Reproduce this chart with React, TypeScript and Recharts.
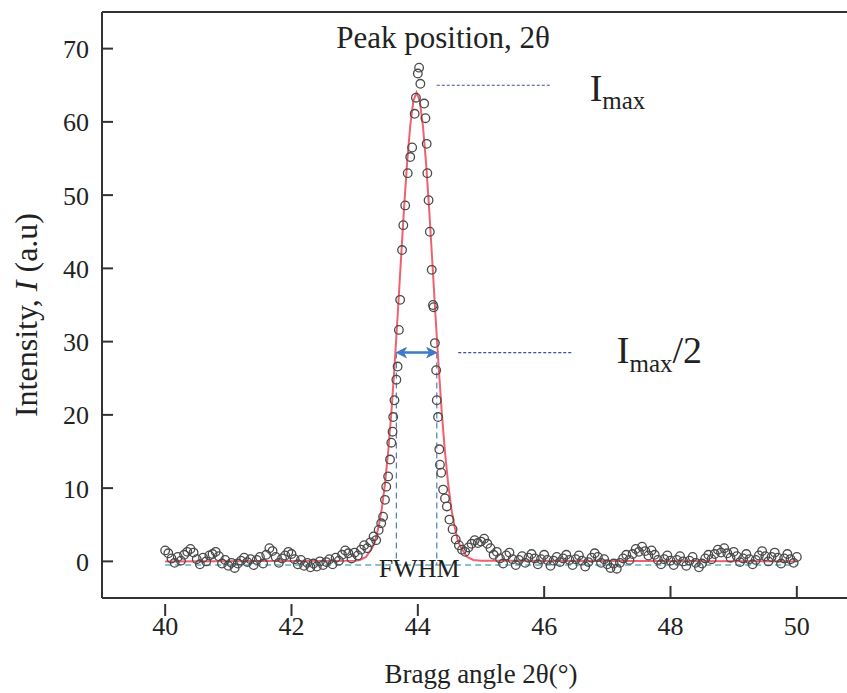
import {
  ComposedChart,
  Line,
  ReferenceDot,
  ReferenceLine,
  Scatter,
  XAxis,
  YAxis,
} from "recharts";

const serif = '"Liberation Serif", "DejaVu Serif", "Times New Roman", serif';

// scan grid of the flat background on both sides of the peak
const scanStep = 0.05;
const leftStart = 40;
const leftCounts = [
  1.5, 1.1, 0.4, -0.2, 0.6, 0.1, 0.9, 1.3, 1.7, 1.2, 0.3, -0.4, 0.5, 0.0, 0.8, 1.0,
  1.3, 0.7, -0.3, 0.2, -0.6, -0.2, -0.9, -0.3, 0.1, 0.5, -0.1, 0.3, -0.5, 0.2, 0.6,
  -0.3, 0.9, 1.8, 1.4, 0.6, -0.2, 0.4, 0.8, 1.3, 1.0, 0.3, -0.4, 0.2, -0.6, -0.2,
  -0.8, -0.3, -0.7, 0.0, -0.5, -0.1, 0.3, -0.4, 0.5, 0.1, 0.9, 1.5, 1.1, 0.4, 1.2,
  0.8, 1.6, 2.2, 1.8,
];
const rightStart = 45;
const rightCounts = [
  2.7, 3.1, 2.4, 1.8, 0.9, 1.3, 0.4, -0.3, 0.8, 1.2, 0.3, -0.5, 0.2, 0.7, -0.2, 0.5,
  1.0, 0.4, -0.4, 0.3, 0.9, 0.2, -0.6, 0.1, 0.6, -0.1, 0.4, 0.9, 0.2, -0.5, 0.3, 0.8,
  0.1, -0.7, -0.1, 0.5, 1.1, 0.6, -0.2, 0.3, -0.4, -0.9, -0.3, -1.0, -0.2, 0.4, 0.9,
  0.2, 1.0, 1.7, 1.3, 2.0, 1.4, 0.8, 1.5, 0.9, 0.2, -0.4, 0.3, 0.8, 0.1, -0.5, 0.2,
  0.7, 0.0, -0.6, 0.1, 0.6, -0.2, -0.8, -0.3, 0.4, 0.9, 0.3, 1.0, 1.6, 1.2, 1.8, 1.1,
  0.5, 1.3, 0.7, -0.1, 0.4, 1.0, 0.3, -0.4, 0.2, 0.8, 1.4, 0.7, 0.0, 0.6, 1.2, 0.5,
  -0.3, 0.4, 1.0, 0.3, -0.2, 0.6,
];

// measured points across the reflection [2θ, I]
const peakPoints: [number, number][] = [
  [43.25, 2.6], [43.3, 3.4], [43.34, 2.9], [43.38, 4.3], [43.42, 5.2], [43.45, 6.1],
  [43.48, 8.4], [43.5, 10.2], [43.53, 11.6], [43.56, 13.9], [43.58, 16.2], [43.6, 17.7],
  [43.61, 19.7], [43.63, 22.0], [43.66, 24.8], [43.68, 26.6], [43.7, 31.6], [43.72, 35.7],
  [43.75, 42.5], [43.77, 45.9], [43.8, 48.6], [43.84, 53.0], [43.88, 55.2], [43.91, 56.5],
  [43.95, 61.1], [43.97, 63.3], [44.0, 66.6], [44.02, 67.4], [44.04, 65.2], [44.1, 62.5],
  [44.12, 60.5], [44.14, 57.0], [44.15, 53.0], [44.17, 49.3], [44.19, 45.0], [44.22, 39.8],
  [44.24, 35.0], [44.25, 34.7], [44.27, 29.8], [44.29, 26.1], [44.3, 22.0], [44.32, 19.7],
  [44.34, 15.3], [44.35, 13.2], [44.37, 12.1], [44.4, 9.8], [44.43, 8.6], [44.46, 7.5],
  [44.5, 5.7], [44.55, 4.4], [44.6, 3.0], [44.65, 2.2], [44.7, 1.6], [44.75, 1.3],
  [44.8, 1.9], [44.85, 2.4], [44.9, 2.9], [44.95, 2.5],
];

// fitted profile [2θ, I]
const fitPoints: [number, number][] = [
  [40, 0], [43.0, 0.1], [43.08, 0.2], [43.18, 0.6], [43.28, 1.9], [43.33, 3.0],
  [43.38, 4.8], [43.43, 7.2], [43.48, 10.6], [43.53, 14.9], [43.58, 20.2], [43.63, 26.5],
  [43.68, 33.5], [43.73, 40.8], [43.78, 48.0], [43.83, 54.4], [43.88, 59.5], [43.93, 62.9],
  [43.98, 64.0], [44.03, 62.9], [44.08, 59.5], [44.13, 54.4], [44.18, 48.0], [44.23, 40.8],
  [44.28, 33.5], [44.33, 26.5], [44.38, 20.2], [44.43, 14.9], [44.48, 10.6], [44.53, 7.2],
  [44.58, 4.8], [44.63, 3.0], [44.68, 1.9], [44.78, 0.6], [44.88, 0.2], [45.0, 0.1], [50, 0],
];

const xTicks = [40, 42, 44, 46, 48, 50];
const yTicks = [0, 10, 20, 30, 40, 50, 60, 70];

const iMax = 65;
const halfMax = 28.5;
const fwhmLeft = 43.66;
const fwhmRight = 44.3;
const baseLevel = -0.5;

const scatterData = [
  ...leftCounts.map((v, i) => ({ angle: +(leftStart + i * scanStep).toFixed(2), intensity: v })),
  ...peakPoints.map(([a, v]) => ({ angle: a, intensity: v })),
  ...rightCounts.map((v, i) => ({ angle: +(rightStart + i * scanStep).toFixed(2), intensity: v })),
];
const fitData = fitPoints.map(([a, v]) => ({ angle: a, intensity: v }));

function XTick({ x, y, payload }: any) {
  const below = payload.value <= 44;
  return (
    <g>
      <line x1={x} x2={x} y1={below ? y + 6 : y - 12} y2={below ? y + 18 : y + 1} stroke="#333" strokeWidth={2} />
      <text x={x} y={y + 37} textAnchor="middle" fontSize={26} fontFamily={serif} fill="#222">
        {payload.value}
      </text>
    </g>
  );
}

function YTick({ x, y, payload }: any) {
  return (
    <g>
      <line x1={x} x2={x + 11} y1={y} y2={y} stroke="#333" strokeWidth={2} />
      <text x={x - 13} y={y + 9.5} textAnchor="end" fontSize={26} fontFamily={serif} fill="#222">
        {payload.value}
      </text>
    </g>
  );
}

function ArrowShape({ x1, y1, x2 }: any) {
  const c = "#3d79c9";
  return (
    <g>
      <line x1={x1 + 3} y1={y1} x2={x2 - 3} y2={y1} stroke={c} strokeWidth={2.5} />
      <path d={`M${x1},${y1} L${x1 + 10},${y1 - 5} L${x1 + 7},${y1} L${x1 + 10},${y1 + 5} Z`} fill={c} stroke={c} />
      <path d={`M${x2},${y1} L${x2 - 10},${y1 - 5} L${x2 - 7},${y1} L${x2 - 10},${y1 + 5} Z`} fill={c} stroke={c} />
    </g>
  );
}

const maxLabel = (suffix: string, shift: number) => (props: any) => {
  const { x, y } = props.viewBox;
  return (
    <text x={x} y={y} fontFamily={serif} fill="#222">
      <tspan fontSize={38}>I</tspan>
      <tspan fontSize={25} dy={shift}>max</tspan>
      {suffix ? <tspan fontSize={38} dy={-shift}>{suffix}</tspan> : null}
    </text>
  );
};

const plainLabel = (value: string, size: number) => (props: any) => {
  const { x, y } = props.viewBox;
  return (
    <text x={x} y={y} textAnchor="middle" fontSize={size} fontFamily={serif} fill="#222">
      {value}
    </text>
  );
};

export default function App() {
  return (
    <div
      style={{
        position: "fixed",
        left: 0,
        top: 0,
        width: 847,
        height: 693,
        overflow: "hidden",
        background: "#fff",
      }}
    >
      <ComposedChart width={880} height={693} margin={{ top: 12, right: 20, bottom: 35, left: 2 }}>
        <XAxis
          type="number"
          dataKey="angle"
          domain={[39, 51]}
          ticks={xTicks}
          interval={0}
          allowDataOverflow
          height={60}
          axisLine={{ stroke: "#333", strokeWidth: 2 }}
          tickLine={false}
          tickSize={0}
          tickMargin={0}
          tick={<XTick />}
          label={(p: any) => (
            <text
              x={p.viewBox.x + p.viewBox.width / 2}
              y={p.viewBox.y + 85}
              textAnchor="middle"
              fontSize={27}
              fontFamily={serif}
              fill="#222"
            >
              Bragg angle 2θ(°)
            </text>
          )}
        />
        <YAxis
          type="number"
          domain={[-5, 75]}
          ticks={yTicks}
          interval={0}
          allowDataOverflow
          width={100}
          axisLine={{ stroke: "#333", strokeWidth: 2 }}
          tickLine={false}
          tickSize={0}
          tickMargin={0}
          tick={<YTick />}
          label={(p: any) => (
            <text
              transform={`translate(${p.viewBox.x + 35}, ${p.viewBox.y + p.viewBox.height / 2 + 10}) rotate(-90)`}
              textAnchor="middle"
              fontSize={32}
              fontFamily={serif}
              fill="#222"
            >
              Intensity, <tspan fontStyle="italic">I</tspan> (a.u)
            </text>
          )}
        />
        <ReferenceLine y={75} stroke="#333" strokeWidth={2} />
        <ReferenceLine
          segment={[{ x: 40, y: baseLevel }, { x: 50, y: baseLevel }]}
          stroke="#5fb0c2"
          strokeWidth={1.5}
          strokeDasharray="6 4"
        />
        <ReferenceLine
          segment={[{ x: fwhmLeft, y: halfMax }, { x: fwhmLeft, y: baseLevel }]}
          stroke="#4f7db3"
          strokeWidth={1.2}
          strokeDasharray="6 4"
        />
        <ReferenceLine
          segment={[{ x: fwhmRight, y: halfMax }, { x: fwhmRight, y: baseLevel }]}
          stroke="#4f7db3"
          strokeWidth={1.2}
          strokeDasharray="6 4"
        />
        <Line
          data={fitData}
          dataKey="intensity"
          type="linear"
          stroke="#f0606e"
          strokeWidth={2}
          dot={false}
          isAnimationActive={false}
        />
        <Scatter
          data={scatterData}
          dataKey="intensity"
          isAnimationActive={false}
          shape={(p: any) => <circle cx={p.cx} cy={p.cy} r={4.3} fill="none" stroke="#4a4a4a" strokeWidth={1.3} />}
        />
        <ReferenceLine
          segment={[{ x: fwhmRight, y: iMax }, { x: 46.1, y: iMax }]}
          stroke="#3f4fa0"
          strokeWidth={1.2}
          strokeDasharray="3 2"
        />
        <ReferenceLine
          segment={[{ x: 44.64, y: halfMax }, { x: 46.44, y: halfMax }]}
          stroke="#3f4fa0"
          strokeWidth={1.2}
          strokeDasharray="3 2"
        />
        <ReferenceLine
          segment={[{ x: fwhmLeft, y: halfMax }, { x: fwhmRight, y: halfMax }]}
          shape={<ArrowShape />}
        />
        <ReferenceDot x={44.4} y={70.1} r={0} label={plainLabel("Peak position, 2θ", 31)} />
        <ReferenceDot x={44.02} y={-2.2} r={0} label={plainLabel("FWHM", 26)} />
        <ReferenceDot x={46.72} y={62.9} r={0} label={maxLabel("", 8)} />
        <ReferenceDot x={47.15} y={27.1} r={0} label={maxLabel("/2", 9)} />
      </ComposedChart>
    </div>
  );
}
